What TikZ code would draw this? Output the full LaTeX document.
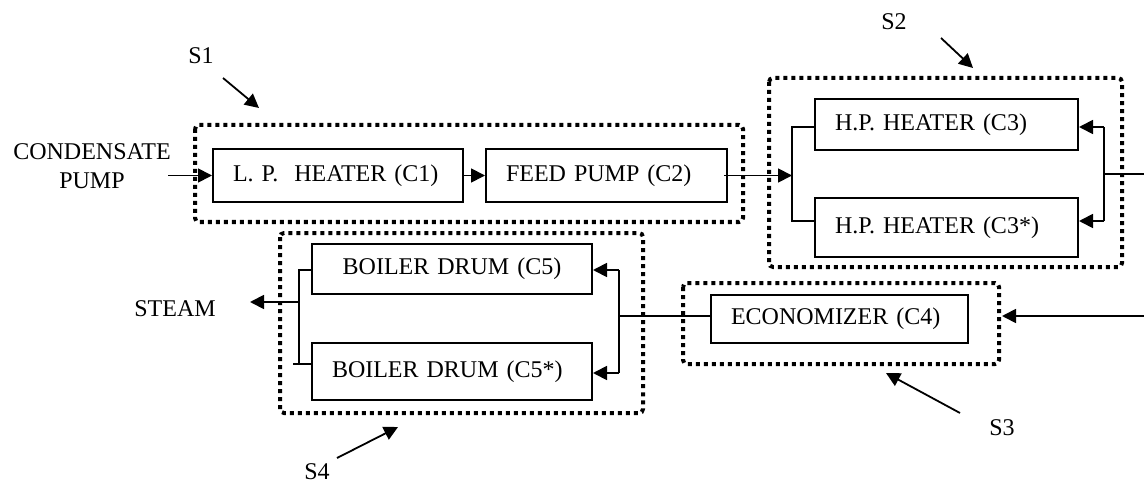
\documentclass[tikz,border=0pt]{standalone}
\usepackage{fontspec}
\setmainfont{Liberation Serif}
\usetikzlibrary{arrows.meta}

\tikzset{
  comp/.style={draw=black, line width=1pt, inner xsep=10pt, align=left, text width=#1},
  group/.style={line width=2pt, dash pattern=on 2pt off 2pt, rounded corners=2pt},
  flow/.style={line width=0.9pt, -{Triangle[length=7pt,width=7pt]}},
  pipe/.style={line width=0.9pt},
}

\begin{document}
\begin{tikzpicture}[x=0.5pt, y=-0.5pt, font=\fontsize{12}{14.5}\selectfont]
	\useasboundingbox (0,0) rectangle (1144,486);
	
	% components
	\node[comp=105pt,   minimum height=26.5pt] (c1)  at (338, 175.5)   {L. P.\ \ HEATER (C1)};
	\node[comp=100.5pt, minimum height=26.5pt] (c2)  at (606.5, 175.5) {FEED PUMP (C2)};
	\node[comp=111.5pt, minimum height=25.5pt] (c3)  at (946.5, 124.5) {H.P. HEATER (C3)};
	\node[comp=111.5pt, minimum height=29.5pt] (c3s) at (946.5, 227.5) {H.P. HEATER (C3*)};
	\node[comp=120pt, align=center, minimum height=25pt] (c5) at (452, 269) {BOILER DRUM (C5)};
	\node[comp=120pt,   minimum height=28.5pt] (c5s) at (452, 371.5)   {BOILER DRUM (C5*)};
	\node[comp=108.5pt, minimum height=24pt]   (c4)  at (839.5, 319)   {ECONOMIZER (C4)};
	
	% subsystems
	\draw[group] (195,125) rectangle (743,222);
	\draw[group] (769,78) rectangle (1122,267);
	\draw[group] (683,283) rectangle (999,364);
	\draw[group] (280,233) rectangle (643,413);
	
	\node (cond)  at (92, 166)  [align=center] {CONDENSATE\\PUMP};
	\node (steam) at (175, 309) {STEAM};
	\node (s1) at (201, 56)  {S1};
	\node (s2) at (894, 22)  {S2};
	\node (s3) at (1002, 428) {S3};
	\node (s4) at (317, 472) {S4};
	
	% bus points
	\coordinate (in)    at (168, 175.5);
	\coordinate (s2in)  at (792, 175.5);
	\coordinate (l3)    at (792, 127);
	\coordinate (l3s)   at (792, 221);
	\coordinate (r3)    at (1104, 127);
	\coordinate (r3s)   at (1104, 221);
	\coordinate (s2out) at (1104, 174);
	\coordinate (hpout) at (1144, 174);
	\coordinate (ecin)  at (1144, 316);
	\coordinate (ectip) at (1002, 316);
	\coordinate (s4in)  at (619, 316);
	\coordinate (r5)    at (619, 270);
	\coordinate (r5s)   at (619, 373);
	\coordinate (l5)    at (299, 270);
	\coordinate (l5s)   at (299, 364);
	\coordinate (s4out) at (299, 302);
	\coordinate (stip)  at (250, 302);
	
	\draw[flow] (in) -- (c1.west);
	\draw[flow] (c1.east) -- (c2.west);
	\draw[flow] ([xshift=-2pt]c2.east) -- (s2in);
	\draw[pipe] (l3 -| c3.west) -- (l3) -- (l3s) -- (l3s -| c3s.west);
	\draw[pipe] (r3) -- (r3s);
	\draw[flow] (r3) -- (r3 -| c3.east);
	\draw[flow] (r3s) -- (r3s -| c3s.east);
	\draw[pipe] (s2out) -- (hpout);
	\draw[flow] (ecin) -- (ectip);
	\draw[pipe] ([yshift=1.5pt]c4.west) -- (s4in);
	\draw[pipe] (r5) -- (r5s);
	\draw[flow] (r5) -- (r5 -| c5.east);
	\draw[flow] (r5s) -- (r5s -| c5s.east);
	\draw[pipe] (l5 -| c5.west) -- (l5) -- (l5s) -- ([xshift=-3pt]l5s);
	\draw[pipe] (l5s) -- (l5s -| c5s.west);
	\draw[flow] (s4out) -- (stip);
	
	% pointers
	\coordinate (p1a) at (223, 78);  \coordinate (p1b) at (259, 108);
	\coordinate (p2a) at (941, 38);  \coordinate (p2b) at (973, 68);
	\coordinate (p3a) at (960, 413); \coordinate (p3b) at (886, 373);
	\coordinate (p4a) at (337, 458); \coordinate (p4b) at (398, 427);
	\draw[flow] (p1a) -- (p1b);
	\draw[flow] (p2a) -- (p2b);
	\draw[flow] (p3a) -- (p3b);
	\draw[flow] (p4a) -- (p4b);
	
\end{tikzpicture}
\end{document}
